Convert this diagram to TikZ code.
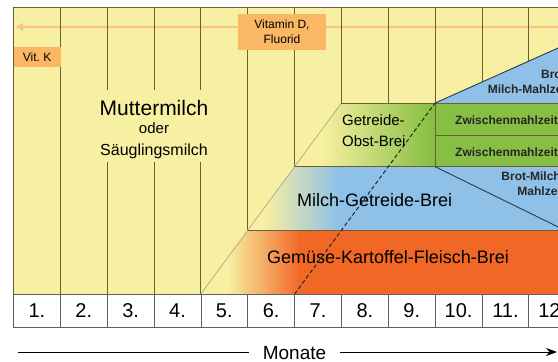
\documentclass[tikz,border=0pt]{standalone}
\usepackage{fontspec}
\setmainfont{Liberation Sans}
\usetikzlibrary{arrows.meta}

\definecolor{milkyellow}{RGB}{247,239,161}
\definecolor{gridolive}{RGB}{105,96,52}
\definecolor{edgedark}{RGB}{45,58,78}
\definecolor{vitorange}{RGB}{250,184,100}
\definecolor{vitline}{RGB}{248,198,128}
\definecolor{breiorange}{RGB}{241,104,38}
\definecolor{breiblue}{RGB}{143,192,232}
\definecolor{breigreen}{RGB}{134,191,67}
\definecolor{cellgray}{RGB}{95,95,95}

\begin{document}
\begin{tikzpicture}[x=1pt, y=-1pt,
    gridline/.style={draw=gridolive, line width=0.9pt},
    edgeline/.style={draw=edgedark, line width=0.9pt},
    vitbox/.style={fill=vitorange, inner sep=0pt, align=center,
        font=\fontsize{12}{15}\selectfont},
    breitext/.style={inner sep=0pt, font=\fontsize{18}{18}\selectfont},
    mealtext/.style={inner sep=0pt, text=black!85,
        font=\bfseries\fontsize{12}{12}\selectfont},
    monthcell/.style={draw=cellgray, line width=0.8pt, fill=white,
        minimum width=46.85pt, minimum height=33pt, inner sep=0pt,
        font=\fontsize{20}{20}\selectfont}]

    \useasboundingbox (0,0) rectangle (558,362);
    \clip (0,0) rectangle (558,362);

    % --- Milk background ---
    \fill[milkyellow] (13.5,7) rectangle (620,294);

    % --- Gemuese band, fading in from the left ---
    \begin{scope}
        \clip (200.9,294) -- (247.75,230.3) -- (620,230.3) -- (620,294) -- cycle;
        \shade[left color=milkyellow, right color=breiorange] (228,229) rectangle (300,295);
        \fill[breiorange] (300,229) rectangle (620,295);
    \end{scope}

    % --- Milch-Getreide band ---
    \begin{scope}
        \clip (247.75,230.3) -- (294.6,166.7) -- (620,166.7) -- (620,230.3) -- cycle;
        \shade[left color=milkyellow, right color=breiblue] (265,166) rectangle (338,231);
        \fill[breiblue] (338,166) rectangle (620,231);
    \end{scope}

    % --- Getreide-Obst band ---
    \begin{scope}
        \clip (294.6,166.7) -- (341.45,103) -- (620,103) -- (620,166.7) -- cycle;
        \shade[left color=milkyellow, right color=breigreen] (322,102) rectangle (432,167);
        \fill[breigreen] (432,102) rectangle (620,167);
    \end{scope}

    % upper bread-milk wedge
    \fill[breiblue] (435.15,103) -- (620,20.3) -- (620,103) -- cycle;

    % --- Vitamin D arrow (under the grid) ---
    \coordinate (vitfrom) at (620,27);
    \coordinate (vitto) at (15,27);
    \draw[vitline, line width=2.5pt, -{Latex[length=8pt,width=9pt]}] (vitfrom) -- (vitto);

    % --- Month columns ---
    \draw[gridline] (60.35,7) -- (60.35,294);
    \foreach \x in {107.2,154.05,200.9} {
        \draw[gridline] (\x,7) -- (\x,90);
        \draw[gridline] (\x,162) -- (\x,294);
    }
    \draw[gridline] (247.75,7) -- (247.75,230.3);
    \draw[gridline] (294.6,7) -- (294.6,166.7);
    \foreach \x in {341.45,388.3,435.15}
        \draw[gridline] (\x,7) -- (\x,103);
    \draw[gridline] (482,7) -- (482,82);
    \draw[gridline] (528.85,7) -- (528.85,61);
    \draw[gridline] (13.5,327) -- (13.5,7) -- (620,7);

    % --- Band edges ---
    \draw[draw=gridolive!60, line width=0.6pt] (200.9,294) -- (341.45,103);
    \draw[gridline] (247.75,230.3) -- (620,230.3);
    \draw[gridline] (294.6,166.7) -- (620,166.7);
    \draw[gridline] (341.45,103) -- (620,103);
    \draw[gridline] (435.15,135) -- (620,135);
    \draw[gridline] (435.15,103) -- (435.15,166.7);
    \draw[edgeline] (435.15,103) -- (620,20.3);
    \draw[edgeline] (435.15,166.7) -- (565,230.3);
    \draw[black!85, line width=1pt, dash pattern=on 4pt off 2.5pt] (294.6,294) -- (435.15,103);

    % --- Month row ---
    \foreach \m in {1,...,12}
        \node[monthcell] (m\m) at ({13.5+(\m-0.5)*46.85},310.5) {\m.};

    % --- Supplements ---
    \node[vitbox, minimum width=46.85pt, minimum height=20pt, anchor=north west] (vitk) at (13.5,47) {Vit.\ K};
    \node[vitbox, minimum width=88pt, minimum height=36pt] (vitd) at (282,32) {Vitamin D,\\Fluorid};

    % --- Milk ---
    \node[inner sep=0pt, anchor=base, font=\fontsize{21}{21}\selectfont] (muttermilch) at (154,115) {Muttermilch};
    \node[inner sep=0pt, anchor=base, font=\fontsize{15}{15}\selectfont] (oder) at (154,133) {oder};
    \node[inner sep=0pt, anchor=base, font=\fontsize{16}{16}\selectfont] (saeugling) at (154,155) {Säuglingsmilch};

    % --- Breie ---
    \node[breitext, anchor=base west] (gemuese) at (267,263) {Gemüse-Kartoffel-Fleisch-Brei};
    \node[breitext, anchor=base west] (milchgetreide) at (297,206) {Milch-Getreide-Brei};
    \node[inner sep=0pt, anchor=base west, font=\fontsize{15}{15}\selectfont] (getreide) at (342,125) {Getreide-};
    \node[inner sep=0pt, anchor=base west, font=\fontsize{15}{15}\selectfont] (obstbrei) at (342,146) {Obst-Brei};

    % --- Family meals ---
    \node[mealtext, anchor=base west] (zwischen1) at (455,124) {Zwischenmahlzeit};
    \node[mealtext, anchor=base west] (zwischen2) at (455,156) {Zwischenmahlzeit};
    \node[mealtext, anchor=base east] (brot1) at (570,78) {Brot-};
    \node[mealtext, anchor=base east] (mahlzeit1) at (570,93) {Milch-Mahlzeit};
    \node[mealtext, anchor=base east] (brot2) at (565,180) {Brot-Milch-};
    \node[mealtext, anchor=base east] (mahlzeit2) at (565,195) {Mahlzeit};

    % --- Time axis ---
    \node[inner sep=0pt, inner xsep=14pt, anchor=base, font=\fontsize{19}{19}\selectfont] (monate) at (294.5,359) {Monate};
    \coordinate (axisfrom) at (18,352);
    \coordinate (axisto) at (557,352);
    \draw[line width=0.9pt] (axisfrom) -- (axisfrom -| monate.west);
    \draw[line width=0.9pt, -{Stealth[length=11pt,width=8pt]}] (monate.east |- axisto) -- (axisto);

\end{tikzpicture}
\end{document}
